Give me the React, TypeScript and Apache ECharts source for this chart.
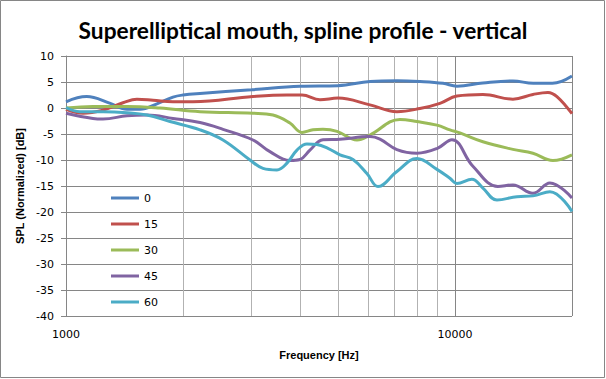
import React, { useEffect, useRef } from "react";
import * as echarts from "echarts";

const seriesNames = ["0", "15", "30", "45", "60"];
const seriesColors = ["#4F81BD", "#C0504D", "#9BBB59", "#8064A2", "#4BACC6"];

const freq0 = [1000, 1130, 1300, 1435, 1550, 1713, 1884, 2000, 2210, 3000, 4000, 5000, 6050, 7100, 8130, 9320, 10120, 11800, 14100, 15900, 17800, 20000];
const spl0 = [1.2, 2.2, 0.9, -0.25, -0.25, 0.8, 2.1, 2.5, 2.8, 3.5, 4.2, 4.3, 5.1, 5.25, 5.1, 4.75, 4.2, 4.8, 5.2, 4.75, 4.75, 6.15];

const freq15 = [1000, 1106, 1245, 1401, 1522, 1674, 1884, 2121, 3025, 3700, 4044, 4498, 5004, 6046, 7093, 8128, 9151, 10120, 11804, 14098, 15868, 17343, 18294, 20000];
const spl15 = [-0.25, -1.0, -0.4, 1.0, 1.7, 1.5, 1.2, 1.2, 2.2, 2.5, 2.5, 1.6, 1.9, 0.6, -0.7, -0.1, 0.9, 2.3, 2.6, 1.7, 2.6, 3.0, 2.2, -1.1];

const freq30 = [1000, 1173, 1435, 1745, 2211, 3025, 3405, 3765, 4044, 4315, 4578, 4975, 5601, 6046, 7220, 7985, 8989, 9707, 10300, 11804, 14098, 15868, 17860, 20000];
const spl30 = [0.0, 0.3, 0.3, 0.0, -0.7, -1.0, -1.35, -2.9, -4.7, -4.2, -4.1, -4.5, -6.15, -5.2, -2.2, -2.6, -3.3, -4.2, -4.8, -6.5, -7.95, -8.7, -10.1, -9.0];

const freq45 = [1000, 1173, 1245, 1435, 1615, 1884, 2211, 2533, 3025, 3345, 3765, 3996, 4239, 4578, 5064, 6046, 6416, 7093, 7985, 8989, 9824, 11124, 12898, 14098, 15868, 17548, 20000];
const spl45 = [-1.0, -2.0, -2.1, -1.5, -1.35, -2.0, -2.8, -4.1, -6.15, -8.4, -10.1, -9.9, -8.1, -6.1, -6.0, -5.5, -6.0, -8.0, -8.7, -7.8, -6.1, -11.2, -15.1, -14.8, -16.4, -14.4, -17.3];

const freq60 = [1000, 1086, 1245, 1435, 1615, 1851, 2211, 2533, 2972, 3210, 3486, 3700, 3925, 4165, 4418, 4716, 5064, 5469, 5939, 6341, 7093, 7985, 8989, 9707, 10120, 11057, 11804, 12823, 14435, 15868, 17548, 20000];
const spl60 = [0.1, -0.7, -0.7, -0.9, -1.35, -2.6, -4.2, -6.15, -10.0, -11.6, -11.9, -10.6, -8.1, -6.9, -7.0, -7.75, -9.0, -9.9, -12.6, -15.1, -12.2, -9.7, -11.8, -13.5, -14.5, -13.7, -15.4, -17.7, -17.05, -16.9, -16.1, -19.9];

const allFreqs = [freq0, freq15, freq30, freq45, freq60];
const allSpl = [spl0, spl15, spl30, spl45, spl60];

const minorGridFreqs = [2000, 3000, 4000, 5000, 6000, 7000, 8000, 9000];
const xLabelValues = [1000, 10000];

const titleText = "Superelliptical mouth, spline profile - vertical";
const xName = "Frequency [Hz]";
const yName = "SPL (Normalized) [dB]";

export default function App() {
  const ref = useRef<HTMLDivElement>(null);

  useEffect(() => {
    if (!ref.current) return;
    const chart = echarts.init(ref.current, undefined, { renderer: "svg" });
    const tickFont = "'DejaVu Sans', Verdana, sans-serif";
    const nameFont = "'Liberation Sans', Arial, sans-serif";

    const series: any[] = seriesNames.map((name, i) => ({
      name,
      type: "line",
      smooth: 0.4,
      symbol: "none",
      data: allFreqs[i].map((f, j) => [f, allSpl[i][j]]),
      lineStyle: { width: 3, color: seriesColors[i] },
      itemStyle: { color: seriesColors[i] },
      z: 3,
    }));
    series[0].markLine = {
      silent: true,
      symbol: ["none", "none"],
      z: 1,
      label: { show: false },
      lineStyle: { color: "#b2b2b2", type: "solid", width: 1 },
      emphasis: { disabled: true },
      data: minorGridFreqs.map((f) => ({ xAxis: f })),
    };

    chart.setOption({
      animation: false,
      backgroundColor: "#ffffff",
      title: {
        text: titleText,
        left: "center",
        top: 14,
        textStyle: {
          fontFamily: "Lato, 'Liberation Sans', sans-serif",
          fontWeight: "bold",
          fontSize: 22.7,
          color: "#000",
        },
      },
      graphic: [
        {
          type: "rect",
          shape: { x: 0.5, y: 0.5, width: 604, height: 377 },
          style: { fill: "none", stroke: "#868686", lineWidth: 1 },
          silent: true,
          z: 100,
        },
      ],
      legend: {
        orient: "vertical",
        left: 111,
        top: 191,
        padding: 0,
        icon: "rect",
        itemWidth: 28,
        itemHeight: 3,
        itemGap: 12,
        data: seriesNames,
        textStyle: {
          fontFamily: tickFont,
          fontSize: 11,
          color: "#000",
          lineHeight: 14,
        },
      },
      grid: { left: 66, right: 34, top: 56, bottom: 63 },
      xAxis: {
        type: "log",
        logBase: 10,
        min: 1000,
        max: 20000,
        name: xName,
        nameLocation: "middle",
        nameGap: 33,
        nameTextStyle: { fontFamily: nameFont, fontWeight: "bold", fontSize: 11, color: "#000" },
        axisLine: { show: true, lineStyle: { color: "#868686" } },
        axisTick: { show: true, length: 5, lineStyle: { color: "#868686" } },
        axisLabel: {
          margin: 13,
          fontFamily: tickFont,
          fontSize: 11,
          color: "#000",
          showMaxLabel: false,
          formatter: (v: number) => (xLabelValues.includes(Math.round(v)) ? String(Math.round(v)) : ""),
        },
        splitLine: { show: true, lineStyle: { color: "#868686", width: 1 } },
      },
      yAxis: {
        type: "value",
        min: -40,
        max: 10,
        interval: 5,
        name: yName,
        nameLocation: "middle",
        nameGap: 33,
        nameTextStyle: { fontFamily: nameFont, fontWeight: "bold", fontSize: 11, color: "#000" },
        axisLine: { show: true, lineStyle: { color: "#868686" } },
        axisTick: { show: true, length: 5, lineStyle: { color: "#868686" } },
        axisLabel: { margin: 12, fontFamily: tickFont, fontSize: 11, color: "#000" },
        splitLine: { show: true, lineStyle: { color: "#868686", width: 1 } },
      },
      series,
    });
    return () => chart.dispose();
  }, []);

  return (
    <div
      ref={ref}
      style={{ position: "absolute", left: 0, top: 0, width: 606, height: 379, background: "#fff" }}
    />
  );
}
